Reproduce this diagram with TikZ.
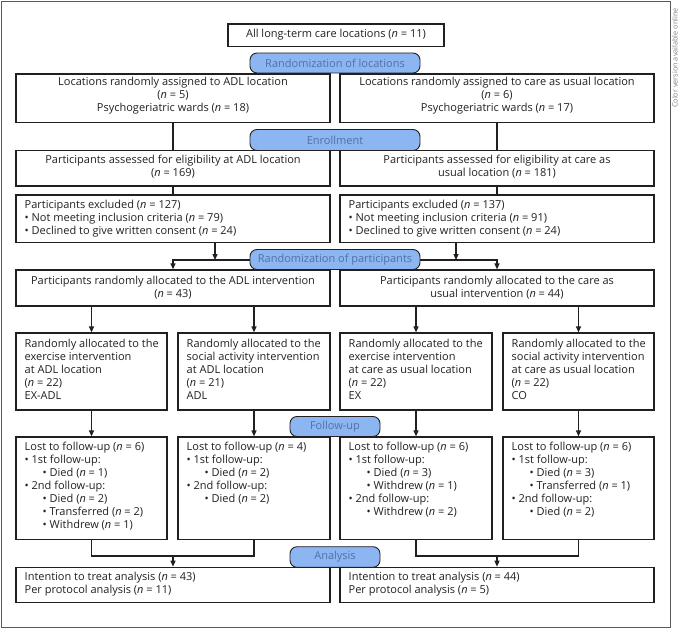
\documentclass[tikz,border=0pt]{standalone}
\usepackage{fontspec}
\setmainfont{Open Sans}
\usetikzlibrary{arrows.meta}
\definecolor{pillfill}{RGB}{140,182,242}
\definecolor{pilltext}{RGB}{82,112,165}
\definecolor{linecol}{RGB}{35,31,32}
\definecolor{framecol}{RGB}{90,90,90}
\newcommand\ind{\hspace*{18pt}}
\newcommand\nn{\textit{n}}
\begin{document}
\begin{tikzpicture}[x=1pt,y=-1pt,
  box/.style={draw=linecol, line width=1.2pt, rectangle, inner sep=0pt},
  txt/.style={inner sep=0pt, font=\fontsize{11}{13}\selectfont, text=linecol},
  txtc/.style={txt, align=center, anchor=north},
  txtl/.style={txt, align=left, anchor=north west},
  pill/.style={draw=linecol, line width=0.9pt, fill=pillfill, rounded corners=7pt, inner sep=0pt, font=\fontsize{11}{13}\selectfont, text=pilltext},
  conn/.style={draw=linecol, line width=1.2pt},
  arr/.style={conn, -{Triangle[length=6pt,width=5pt]}}
]
\useasboundingbox (0,0) rectangle (679,628);
\draw[framecol, line width=0.8pt] (1,1) rectangle (670.5,627);
\node[rotate=90, font=\fontsize{7.3}{9}\selectfont, text=gray, inner sep=0pt, anchor=south] (cv) at (678,58) {Color version available online};

% boxes
\node[box, minimum width=216pt, minimum height=22.5pt] (top) at (336,35.25) {};
\node[box, minimum width=314pt, minimum height=48.7pt] (b1l) at (173,98.35) {};
\node[box, minimum width=314pt, minimum height=48.7pt] (b1r) at (497,98.35) {};
\node[box, minimum width=314pt, minimum height=35.3pt] (b2l) at (173,168.35) {};
\node[box, minimum width=314pt, minimum height=35.3pt] (b2r) at (497,168.35) {};
\node[box, minimum width=314pt, minimum height=47.7pt] (b3l) at (173,218.85) {};
\node[box, minimum width=314pt, minimum height=47.7pt] (b3r) at (497,218.85) {};
\node[box, minimum width=314pt, minimum height=36pt] (b4l) at (173,288) {};
\node[box, minimum width=314pt, minimum height=36pt] (b4r) at (497,288) {};
\node[box, minimum width=151pt, minimum height=77pt] (b5a) at (91.5,371.5) {};
\node[box, minimum width=152pt, minimum height=77pt] (b5b) at (254,371.5) {};
\node[box, minimum width=152pt, minimum height=77pt] (b5c) at (416,371.5) {};
\node[box, minimum width=151pt, minimum height=77pt] (b5d) at (578.5,371.5) {};
\node[box, minimum width=151pt, minimum height=102.3pt] (b6a) at (91.5,488.15) {};
\node[box, minimum width=152pt, minimum height=102.3pt] (b6b) at (254,488.15) {};
\node[box, minimum width=152pt, minimum height=102.3pt] (b6c) at (416,488.15) {};
\node[box, minimum width=151pt, minimum height=102.3pt] (b6d) at (578.5,488.15) {};
\node[box, minimum width=314pt, minimum height=35.4pt] (b7l) at (173,585) {};
\node[box, minimum width=314pt, minimum height=35.4pt] (b7r) at (497,585) {};

% texts
\node[txtc] (ttop) at (336,28.4) {\strut All long-term care locations (\nn{} = 11)};
\node[txtc] (t1l) at (173,76.7) {\strut Locations randomly assigned to ADL location\\(\nn{} = 5)\\Psychogeriatric wards (\nn{} = 18)};
\node[txtc] (t1r) at (497,76.7) {\strut Locations randomly assigned to care as usual location\\(\nn{} = 6)\\Psychogeriatric wards (\nn{} = 17)};
\node[txtc] (t2l) at (173,154.4) {\strut Participants assessed for eligibility at ADL location\\(\nn{} = 169)};
\node[txtc] (t2r) at (497,154.4) {\strut Participants assessed for eligibility at care as\\usual location (\nn{} = 181)};
\node[txtl] (t3l) at (24.5,199.4) {\strut Participants excluded (\nn{} = 127)\\• Not meeting inclusion criteria (\nn{} = 79)\\• Declined to give written consent (\nn{} = 24)};
\node[txtl] (t3r) at (348.5,199.4) {\strut Participants excluded (\nn{} = 137)\\• Not meeting inclusion criteria (\nn{} = 91)\\• Declined to give written consent (\nn{} = 24)};
\node[txtc] (t4l) at (173,274.8) {\strut Participants randomly allocated to the ADL intervention\\(\nn{} = 43)};
\node[txtc] (t4r) at (497,274.8) {\strut Participants randomly allocated to the care as\\usual intervention (\nn{} = 44)};
\node[txtl] (t5a) at (24.5,338.4) {\strut Randomly allocated to the\\exercise intervention\\at ADL location\\(\nn{} = 22)\\EX-ADL};
\node[txtl] (t5b) at (186.5,338.4) {\strut Randomly allocated to the\\social activity intervention\\at ADL location\\(\nn{} = 21)\\ADL};
\node[txtl] (t5c) at (348.5,338.4) {\strut Randomly allocated to the\\exercise intervention\\at care as usual location\\(\nn{} = 22)\\EX};
\node[txtl] (t5d) at (511.5,338.4) {\strut Randomly allocated to the\\social activity intervention\\at care as usual location\\(\nn{} = 22)\\CO};
\node[txtl] (t6a) at (24.5,441.1) {\strut Lost to follow-up (\nn{} = 6)\\• 1st follow-up:\\\ind• Died (\nn{} = 1)\\• 2nd follow-up:\\\ind• Died (\nn{} = 2)\\\ind• Transferred (\nn{} = 2)\\\ind• Withdrew (\nn{} = 1)};
\node[txtl] (t6b) at (186.5,441.1) {\strut Lost to follow-up (\nn{} = 4)\\• 1st follow-up:\\\ind• Died (\nn{} = 2)\\• 2nd follow-up:\\\ind• Died (\nn{} = 2)};
\node[txtl] (t6c) at (348.5,441.1) {\strut Lost to follow-up (\nn{} = 6)\\• 1st follow-up:\\\ind• Died (\nn{} = 3)\\\ind• Withdrew (\nn{} = 1)\\• 2nd follow-up:\\\ind• Withdrew (\nn{} = 2)};
\node[txtl] (t6d) at (511.5,441.1) {\strut Lost to follow-up (\nn{} = 6)\\• 1st follow-up:\\\ind• Died (\nn{} = 3)\\\ind• Transferred (\nn{} = 1)\\• 2nd follow-up:\\\ind• Died (\nn{} = 2)};
\node[txtl] (t7l) at (24.5,571.1) {\strut Intention to treat analysis (\nn{} = 43)\\Per protocol analysis (\nn{} = 11)};
\node[txtl] (t7r) at (348.5,571.1) {\strut Intention to treat analysis (\nn{} = 44)\\Per protocol analysis (\nn{} = 5)};

% connectors
\draw[conn] (b1l.south) -- (b2l.north);
\draw[conn] (b1r.south) -- (b2r.north);
\draw[conn] (b2l.south) -- (b3l.north);
\draw[conn] (b2r.south) -- (b3r.north);
\coordinate (m3l) at (215,260);
\coordinate (m3r) at (456,260);
\coordinate (j3l) at (173,260);
\coordinate (j3r) at (497,260);
\draw[arr] (b3l.south -| m3l) -- (m3l);
\draw[arr] (b3r.south -| m3r) -- (m3r);
\draw[arr] (250,260) -- (j3l) -- (b4l.north);
\draw[arr] (420,260) -- (j3r) -- (b4r.north);
\draw[arr] (b4l.south -| b5a.north) -- (b5a.north);
\draw[arr] (b4l.south -| b5b.north) -- (b5b.north);
\draw[arr] (b4r.south -| b5c.north) -- (b5c.north);
\draw[arr] (b4r.south -| b5d.north) -- (b5d.north);
\draw[arr] (b5a.south) -- (b6a.north);
\draw[arr] (b5b.south) -- (b6b.north);
\draw[arr] (b5c.south) -- (b6c.north);
\draw[arr] (b5d.south) -- (b6d.north);
\coordinate (m6l) at (173,556);
\coordinate (m6r) at (497,556);
\draw[conn] (b6a.south) -- (b6a.south |- m6l) -- (b6b.south |- m6l) -- (b6b.south);
\draw[conn] (b6c.south) -- (b6c.south |- m6r) -- (b6d.south |- m6r) -- (b6d.south);
\draw[arr] (m6l) -- (b7l.north);
\draw[arr] (m6r) -- (b7r.north);

% pills
\node[pill, minimum width=170pt, minimum height=20pt] (p1) at (335,63) {Randomization of locations};
\node[pill, minimum width=170pt, minimum height=21pt] (p2) at (335,140) {Enrollment};
\node[pill, minimum width=170pt, minimum height=20pt] (p3) at (335,259.5) {Randomization of participants};
\node[pill, minimum width=90pt, minimum height=20pt] (p4) at (335,426.5) {Follow-up};
\node[pill, minimum width=90pt, minimum height=20.6pt] (p5) at (335,557) {Analysis};
\end{tikzpicture}
\end{document}
